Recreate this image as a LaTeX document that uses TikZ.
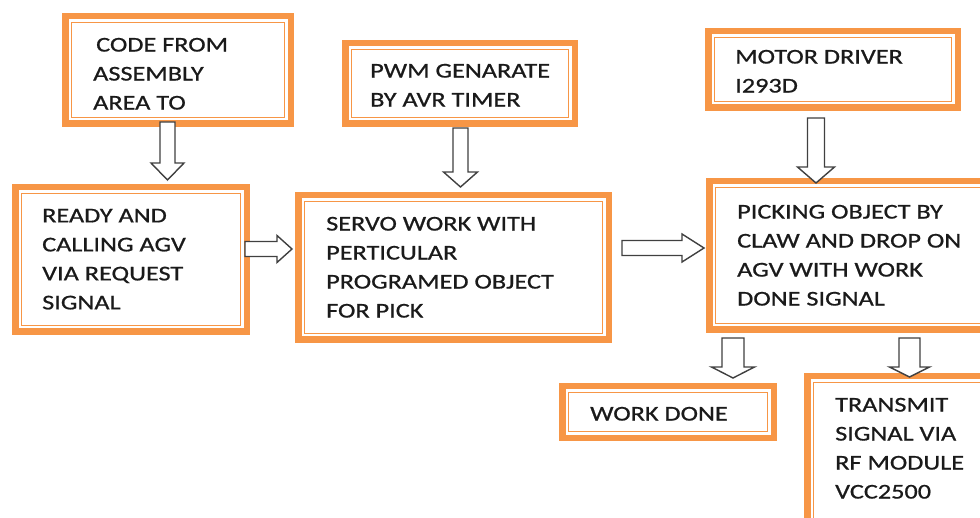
\documentclass[tikz,border=0pt]{standalone}
\usepackage{fontspec}
\newfontfamily\boxfont[FakeStretch=1.25,FakeBold=0.8]{Carlito}
\usetikzlibrary{calc}
\definecolor{orng}{HTML}{F79646}
\definecolor{arw}{HTML}{404040}
\definecolor{txt}{HTML}{1A1A1A}
\tikzset{
  box/.style={draw=orng, line width=6.5pt, inner sep=0pt, outer sep=0pt, anchor=north west,
    path picture={\draw[orng, line width=1.3pt]
      ([shift={(6.4pt,-6.4pt)}]path picture bounding box.north west) rectangle
      ([shift={(-6.4pt,6.4pt)}]path picture bounding box.south east);}},
  lbl/.style={anchor=north west, inner sep=0pt, align=left,
    font=\boxfont\fontsize{21}{29}\selectfont, text=txt},
  blk/.style={draw=arw, line width=1.4pt, fill=white, line join=miter},
}
% vertical block arrow: start, tip, half shaft, half head, head length
\newcommand\varrow[5]{%
  \draw[blk] let \p1=(#1), \p2=(#2) in
    (\x1-#3,\y1) -- (\x1+#3,\y1) -- (\x1+#3,\y2+#5) -- (\x1+#4,\y2+#5) -- (\x2,\y2)
    -- (\x1-#4,\y2+#5) -- (\x1-#3,\y2+#5) -- cycle;}
% horizontal block arrow
\newcommand\harrow[5]{%
  \draw[blk] let \p1=(#1), \p2=(#2) in
    (\x1,\y1+#3) -- (\x2-#5,\y1+#3) -- (\x2-#5,\y1+#4) -- (\x2,\y2)
    -- (\x2-#5,\y1-#4) -- (\x2-#5,\y1-#3) -- (\x1,\y1-#3) -- cycle;}
\begin{document}
\begin{tikzpicture}[x=1pt,y=-1pt]
\useasboundingbox (0,0) rectangle (980,518);
\clip (0,0) rectangle (980,518);
\fill[white] (0,0) rectangle (980,518);

% boxes
\node[box, minimum width=225.5pt, minimum height=107.5pt] (b1) at (65.25,16.25) {};
\node[box, minimum width=231.5pt, minimum height=144.5pt] (b2) at (15.25,187.25) {};
\node[box, minimum width=310.5pt, minimum height=144.5pt] (b3) at (298.25,195.25) {};
\node[box, minimum width=229.5pt, minimum height=80.5pt] (b4) at (345.25,43.25) {};
\node[box, minimum width=249.5pt, minimum height=76.5pt] (b5) at (708.25,31.25) {};
\node[box, minimum width=282.5pt, minimum height=148.5pt] (b6) at (709.25,181.25) {};
\node[box, minimum width=211.5pt, minimum height=51.5pt] (b7) at (562.25,386.25) {};
\node[box, minimum width=184.5pt, minimum height=155.5pt] (b8) at (807.25,376.25) {};

% labels
\node[lbl] (t1) at (93,37.7) {\hspace*{3pt}CODE FROM\\ASSEMBLY\\AREA TO};
\node[lbl] (t2) at (42,208.7) {READY AND\\CALLING AGV\\VIA REQUEST\\SIGNAL};
\node[lbl] (t3) at (326,216.7) {SERVO WORK WITH\\PERTICULAR\\PROGRAMED OBJECT\\FOR PICK};
\node[lbl] (t4) at (370,63.7) {PWM GENARATE\\BY AVR TIMER};
\node[lbl] (t5) at (735,49.7) {MOTOR DRIVER\\I293D};
\node[lbl] (t6) at (737,204.7) {PICKING OBJECT BY\\CLAW AND DROP ON\\AGV WITH WORK\\DONE SIGNAL};
\node[lbl] (t7) at (590,406.7) {WORK DONE};
\node[lbl] (t8) at (835,397.7) {TRANSMIT\\SIGNAL VIA\\RF MODULE\\VCC2500};

% arrow end points
\coordinate (a1s) at (167.5,122); \coordinate (a1t) at (167.5,180);
\coordinate (a2s) at (245,249);   \coordinate (a2t) at (292,249);
\coordinate (a3s) at (460.5,128); \coordinate (a3t) at (460.5,187);
\coordinate (a4s) at (622,248);   \coordinate (a4t) at (704,248);
\coordinate (a5s) at (816,118);   \coordinate (a5t) at (816,183);
\coordinate (a6s) at (733,338);   \coordinate (a6t) at (733,378);
\coordinate (a7s) at (909.5,338); \coordinate (a7t) at (909.5,377);

\varrow{a1s}{a1t}{7.5pt}{16.5pt}{17pt}
\harrow{a2s}{a2t}{7.5pt}{13.5pt}{15pt}
\varrow{a3s}{a3t}{7.5pt}{17pt}{15pt}
\harrow{a4s}{a4t}{7.5pt}{14pt}{22pt}
\varrow{a5s}{a5t}{8.5pt}{18.5pt}{16pt}
\varrow{a6s}{a6t}{11pt}{21.5pt}{11pt}
\varrow{a7s}{a7t}{10.5pt}{20pt}{10pt}
\end{tikzpicture}
\end{document}
